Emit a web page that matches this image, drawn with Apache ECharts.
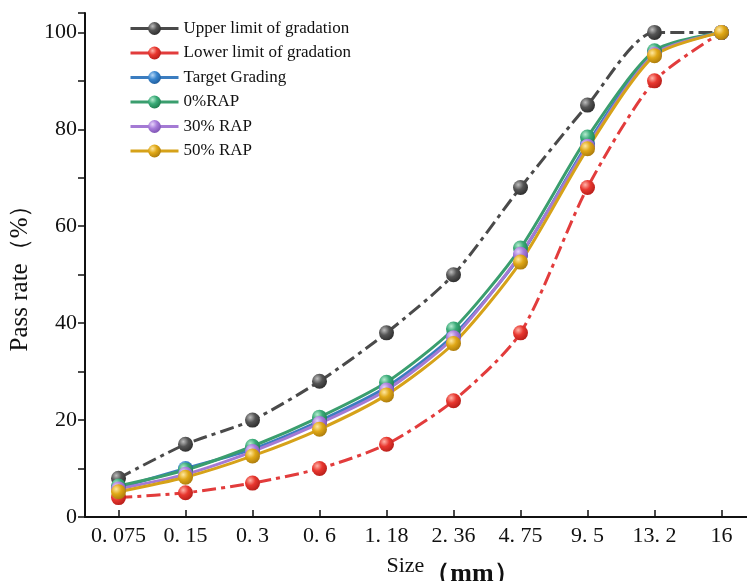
<!DOCTYPE html>
<html>
<head>
<meta charset="utf-8">
<script src="https://cdn.jsdelivr.net/npm/echarts@6/dist/echarts.min.js"></script>
<style>
  html, body { margin: 0; padding: 0; background: #fff; }
  #chart { width: 747px; height: 581px; }
</style>
</head>
<body>
<div id="chart"></div>
<script>
var sizes = ["0.075", "0.15", "0.3", "0.6", "1.18", "2.36", "4.75", "9.5", "13.2", "16"];
var upperLimit = [8, 15, 20, 28, 38, 50, 68, 85, 100, 100];
var lowerLimit = [4, 5, 7, 10, 15, 24, 38, 68, 90, 100];
var targetGrading = [6, 10, 14, 19.8, 26.8, 37.5, 54, 77, 95.8, 100];
var rap0 = [6.4, 9.7, 14.6, 20.6, 27.8, 38.8, 55.5, 78.4, 96.2, 100];
var rap30 = [5.8, 8.8, 13.5, 19.3, 26.2, 37, 54.2, 76.5, 95.5, 100];
var rap50 = [5.2, 8.2, 12.6, 18.1, 25.2, 35.8, 52.6, 76, 95.2, 100];
var yTicks = [0, 20, 40, 60, 80, 100];

var serif = "Liberation Serif";

// 球形标记
function ball(light, base, dark) {
  return {
    type: "radial", x: 0.35, y: 0.32, r: 0.75,
    colorStops: [
      { offset: 0, color: light },
      { offset: 0.45, color: base },
      { offset: 1, color: dark }
    ]
  };
}

function makeSeries(name, data, lineColor, marker, dashed) {
  return {
    name: name,
    type: "line",
    data: data,
    smooth: 0.25,
    symbol: "circle",
    symbolSize: 15,
    lineStyle: {
      color: lineColor,
      width: 3,
      type: dashed ? [14, 5, 4, 5] : "solid"
    },
    itemStyle: { color: marker, borderWidth: 0 }
  };
}

var myChart = echarts.init(document.getElementById("chart"));
var option = {
  backgroundColor: "#ffffff",
  animation: false,
  grid: { left: 85, top: 13, width: 670, height: 504, outerBoundsMode: "none", containLabel: false },
  legend: {
    left: 124,
    top: 15,
    orient: "vertical",
    itemGap: 7.5,
    itemWidth: 48,
    itemHeight: 16,
    lineStyle: { type: "solid", width: 3 },
    textStyle: { fontFamily: serif, fontSize: 17, color: "#111" },
    data: ["Upper limit of gradation", "Lower limit of gradation", "Target Grading", "0%RAP", "30% RAP", "50% RAP"]
  },
  xAxis: {
    type: "category",
    data: sizes,
    boundaryGap: true,
    name: "{a|Size}{b|（mm）}",
    nameLocation: "middle",
    nameGap: 34,
    nameTextStyle: {
      padding: [0, 0, 0, 66],
      rich: {
        a: { fontFamily: serif, fontSize: 22, color: "#111", padding: [0, 0, 6, 0] },
        b: { fontFamily: serif, fontSize: 26, fontWeight: "bold", color: "#111", padding: [10, 0, 0, 0] }
      }
    },
    axisLine: { lineStyle: { color: "#111", width: 2 } },
    axisTick: { show: true, inside: true, alignWithLabel: true, length: 7, lineStyle: { color: "#111", width: 1.5 } },
    axisLabel: {
      interval: 0,
      fontFamily: serif, fontSize: 22, color: "#111", margin: 8,
      formatter: function (v) { return v.replace(".", ". "); }
    },
    splitLine: { show: false }
  },
  yAxis: {
    type: "value",
    min: 0,
    max: 104,
    interval: 20,
    name: "Pass rate（%）",
    nameLocation: "middle",
    nameRotate: 90,
    nameGap: 46,
    nameTextStyle: { fontFamily: serif, fontSize: 25, color: "#111", padding: [0, 14, 0, 0] },
    axisLine: { show: true, lineStyle: { color: "#111", width: 2 } },
    axisTick: { show: true, length: 7, lineStyle: { color: "#111", width: 1.5 } },
    minorTick: { show: true, splitNumber: 2, length: 7, lineStyle: { color: "#111", width: 1.5 } },
    axisLabel: {
      fontFamily: serif, fontSize: 22, color: "#111", margin: 8,
      showMaxLabel: false,
      formatter: function (v) { return yTicks.indexOf(v) >= 0 ? String(v) : ""; }
    },
    splitLine: { show: false }
  },
  series: [
    makeSeries("Upper limit of gradation", upperLimit, "#4a4a4a", ball("#bdbdbd", "#555555", "#2a2a2a"), true),
    makeSeries("Lower limit of gradation", lowerLimit, "#e23c3c", ball("#ffb3a8", "#e8372f", "#b31c18"), true),
    makeSeries("Target Grading", targetGrading, "#3b7dc0", ball("#b6d7f5", "#3a86cf", "#1d5a99"), false),
    makeSeries("0%RAP", rap0, "#3a9e6e", ball("#b5ecd0", "#3aab78", "#1d7a4c"), false),
    makeSeries("30% RAP", rap30, "#a47ad4", ball("#e6d3fb", "#a97ddb", "#7a4fb0"), false),
    makeSeries("50% RAP", rap50, "#d6a219", ball("#ffe8a0", "#e0a817", "#a8780b"), false)
  ]
};
myChart.setOption(option);
</script>
</body>
</html>
